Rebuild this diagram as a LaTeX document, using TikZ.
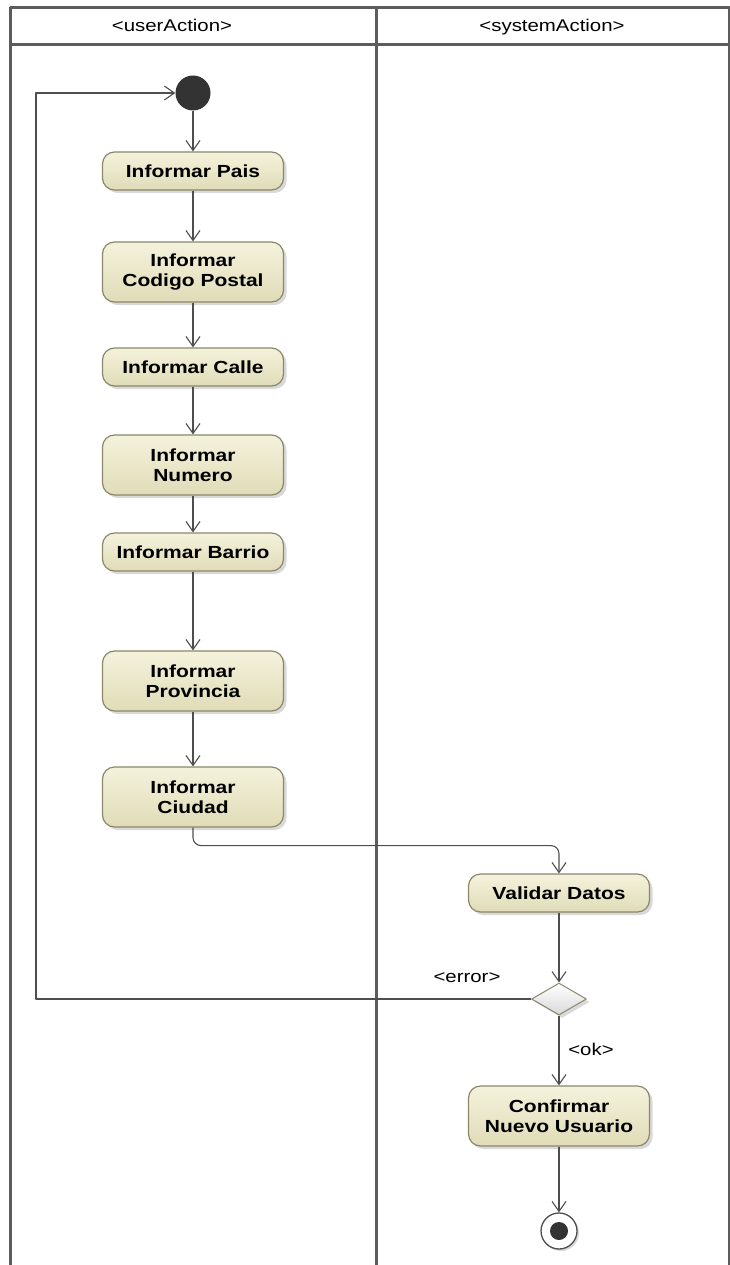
\documentclass[tikz,border=0pt]{standalone}
\usepackage{fontspec}
\setmainfont{Liberation Sans}[FakeStretch=1.2]
\usetikzlibrary{arrows.meta,positioning,shadows,shapes.geometric}

\definecolor{lanegray}{HTML}{5C5C5C}
\definecolor{actfill}{HTML}{F4F2DC}
\definecolor{actfilldark}{HTML}{E0DCB8}
\definecolor{actdraw}{HTML}{8A876A}
\definecolor{flowgray}{HTML}{4E4E4E}

\begin{document}
\begin{tikzpicture}[x=1pt,y=-1pt, line join=round,
  action/.style={rectangle, rounded corners=12pt, draw=actdraw, line width=1.2pt,
    top color=actfill, bottom color=actfilldark, minimum width=181pt,
    minimum height=38pt, align=center, inner sep=2pt,
    font=\fontsize{17.5}{20}\selectfont\bfseries,
    drop shadow={shadow xshift=3pt, shadow yshift=-3pt, opacity=0.3}},
  tall/.style={minimum height=60pt},
  flow/.style={draw=flowgray, line width=1.1pt, -{Straight Barb[length=10pt,width=14pt]}},
  lane/.style={draw=lanegray, line width=3pt},
  lbl/.style={font=\fontsize{17}{20}\selectfont, inner sep=1pt, anchor=base}]

% -----------------------------
% Parameters
% -----------------------------
\def\colU{193}     % centre of user lane
\def\colS{559}     % centre of system lane
\def\loopX{36}     % x of the back loop

\useasboundingbox (0,0) rectangle (730,1265);

% -----------------------------
% Swimlanes
% -----------------------------
\draw[lane] (10,1265) -- (10,8) -- (729,8) -- (729,1265);
\draw[lane] (10,45) -- (729,45);
\draw[lane] (376,8) -- (376,1265);

\node[lbl] (hUser) at (172,32) {<userAction>};
\node[lbl] (hSys) at (552,32) {<systemAction>};

% -----------------------------
% User actions
% -----------------------------
\node[circle, fill=black!80, minimum size=35pt, inner sep=0pt] (start) at (\colU,93) {};

\node[action] (pais)      at (\colU,171) {Informar Pais};
\node[action, tall] (cp)  at (\colU,272) {Informar\\Codigo Postal};
\node[action] (calle)     at (\colU,367) {Informar Calle};
\node[action, tall] (num) at (\colU,465) {Informar\\Numero};
\node[action] (barrio)    at (\colU,552) {Informar Barrio};
\node[action, tall] (prov) at (\colU,681) {Informar\\Provincia};
\node[action, tall] (ciudad) at (\colU,797) {Informar\\Ciudad};

% -----------------------------
% System actions
% -----------------------------
\node[action] (validar) at (\colS,893) {Validar Datos};
\node[diamond, draw=actdraw, line width=1pt, top color=white, bottom color=black!15,
  minimum width=55pt, minimum height=32pt, inner sep=0pt,
  drop shadow={shadow xshift=3pt, shadow yshift=-3pt, opacity=0.3}] (dec) at (\colS,999) {};
\node[action, tall] (confirm) at (\colS,1116) {Confirmar\\Nuevo Usuario};

\node[circle, draw=flowgray, line width=1.3pt, fill=white, minimum size=36pt, inner sep=0pt,
  drop shadow={shadow xshift=2pt, shadow yshift=-2pt, opacity=0.3}] (stop) at (\colS,1231) {};
\fill[black!80] (stop.center) circle (9pt);

% -----------------------------
% Flows
% -----------------------------
\draw[flow] (start) -- (pais);
\draw[flow] (pais) -- (cp);
\draw[flow] (cp) -- (calle);
\draw[flow] (calle) -- (num);
\draw[flow] (num) -- (barrio);
\draw[flow] (barrio) -- (prov);
\draw[flow] (prov) -- (ciudad);
\draw[flow, rounded corners=8pt] (ciudad.south) -- ++(0,18) -| (validar.north);
\draw[flow] (validar) -- (dec);
\draw[flow] (dec) -- (confirm);
\draw[flow] (confirm) -- (stop);

% back loop on error
\coordinate (loop) at (\loopX,0);
\draw[flow] (dec.west) -- (dec.west -| loop) |- (start.west);

\node[lbl] (errLbl) at (467,982) {<error>};
\node[lbl] (okLbl) at (591,1055) {<ok>};

\end{tikzpicture}
\end{document}
